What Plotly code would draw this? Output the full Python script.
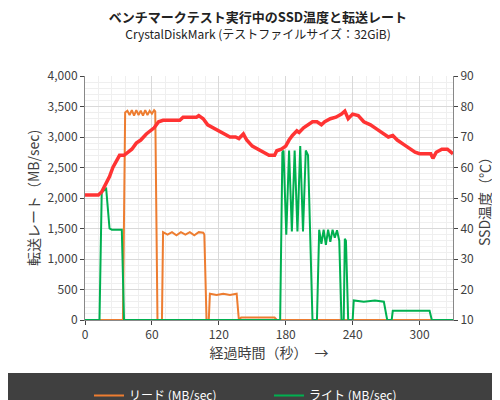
import plotly.graph_objects as go

# SSD temperature (deg C), right axis
temp_t = [0, 12, 15, 18, 22, 25, 28, 31, 35, 38, 42, 46, 50, 55, 58, 62, 66, 70, 75, 85, 88, 100, 102, 106,
          110, 115, 120, 125, 130, 135, 138, 142, 145, 150, 155, 160, 165, 170, 172, 176, 180, 183, 186, 190,
          192, 196, 200, 204, 208, 212, 215, 220, 225, 230, 233, 236, 240, 245, 250, 256, 262, 268, 272, 276,
          280, 286, 292, 296, 300, 310, 312, 315, 320, 325, 330]
temp_v = [51, 51, 52, 54, 57, 60, 62, 64, 64, 65, 66, 68, 69, 71, 72, 73, 75, 75.5, 75.5, 75.5, 76.5, 76.5, 77, 76,
          74, 73, 72, 71, 70, 70, 69.5, 71, 69, 67, 66, 65, 64, 64, 65.5, 66, 67, 69, 70.5, 72,
          71.5, 73, 74, 75, 75, 74, 75, 76, 76.5, 77.5, 78.5, 76, 77.5, 77, 75, 74, 72.5, 71, 70, 70.5,
          69, 67.5, 66, 65, 64.5, 64.5, 63, 65, 66, 66, 64.5]

# read rate (MB/sec)
read_t = [0, 34, 36, 38, 40, 42, 44, 46, 48, 50, 52, 54, 56, 58, 60, 62, 63, 65, 69, 70, 74, 78, 82, 86, 90,
          94, 98, 102, 106, 107, 109, 111, 112, 118, 124, 130, 136, 138, 140, 170, 172, 330]
read_v = [0, 0, 3400, 3430, 3360, 3440, 3350, 3440, 3360, 3430, 3350, 3440, 3360, 3430, 3380, 3440, 3420, 0, 0,
          1440, 1400, 1440, 1390, 1440, 1400, 1440, 1390, 1440, 1430, 1400, 0, 0, 430, 410, 430, 410, 430,
          0, 40, 40, 0, 0]

# write rate (MB/sec)
write_t = [0, 13, 15, 19, 22, 24, 33, 35, 175, 177, 178, 180.5, 183, 185.5, 188, 190.5, 193, 195.5, 198, 200,
           204, 208, 210, 212, 214, 216, 218, 220, 222, 224, 226, 228, 230, 232, 233, 234, 236, 240, 241, 250,
           260, 268, 271, 275, 276, 290, 309, 311, 330]
write_v = [0, 0, 2100, 2150, 1500, 1480, 1480, 0, 0, 2750, 2780, 1400, 2780, 1450, 2780, 1450, 2850, 1450, 2780,
           2700, 0, 0, 1480, 1250, 1480, 1230, 1480, 1280, 1480, 1350, 1470, 1300, 0, 0, 1330, 1300, 0, 0, 320,
           300, 320, 300, 0, 0, 150, 150, 150, 0, 0]

orange = "#ED7D31"
green = "#00B050"
red = "#FF3333"
font = "Noto Sans CJK JP"

fig = go.Figure()
fig.add_trace(go.Scatter(x=read_t, y=read_v, mode="lines", name="リード (MB/sec)",
                         line=dict(color=orange, width=2)))
fig.add_trace(go.Scatter(x=write_t, y=write_v, mode="lines", name="ライト (MB/sec)",
                         line=dict(color=green, width=2)))
fig.add_trace(go.Scatter(x=temp_t, y=temp_v, mode="lines", name="SSD温度", yaxis="y2",
                         line=dict(color=red, width=3.5)))

## plot area is 244px tall: dark legend band runs from 365px to the bottom edge
fig.add_shape(type="rect", xref="paper", yref="paper", x0=-0.3, x1=1.3, y0=-0.37, y1=-0.217,
              fillcolor="#404040", line_width=0, layer="below")

fig.update_layout(
    width=500, height=400,
    margin=dict(l=77, r=55, t=68, b=88, autoexpand=False),
    paper_bgcolor="white", plot_bgcolor="white",
    font=dict(family=font, size=12, color="#404040"),
    title=dict(text="<b>ベンチマークテスト実行中のSSD温度と転送レート</b><br>"
                    "<span style='font-size:12px'>CrystalDiskMark (テストファイルサイズ：32GiB)</span>",
               x=0.5, y=0.965, xanchor="center", yanchor="top", font=dict(size=13, color="#222")),
    xaxis=dict(range=[0, 330], dtick=60, showline=True, linecolor="#888", ticks="outside", ticklen=4,
               gridcolor="#d9d9d9", minor=dict(dtick=12, showgrid=True, gridcolor="#efefef"),
               title=dict(text="経過時間（秒）　→", standoff=4), zeroline=False),
    yaxis=dict(range=[0, 4000], dtick=500, tickformat=",", showline=True, linecolor="#888", ticks="outside",
               ticklen=4, gridcolor="#d9d9d9", minor=dict(dtick=100, showgrid=True, gridcolor="#efefef"),
               title=dict(text="転送レート（MB/sec)", standoff=4), zeroline=False),
    yaxis2=dict(range=[10, 90], dtick=10, overlaying="y", side="right", showline=True, linecolor="#888",
                ticks="outside", ticklen=4, showgrid=False, zeroline=False,
                title=dict(text="SSD温度（℃）", standoff=2)),
    legend=dict(orientation="h", x=0.5, xanchor="center", y=-0.25, yanchor="top",
                font=dict(color="white", size=12), bgcolor="rgba(0,0,0,0)",
                entrywidth=135, entrywidthmode="pixels"),
    showlegend=True,
)

fig.write_html("out.html")
